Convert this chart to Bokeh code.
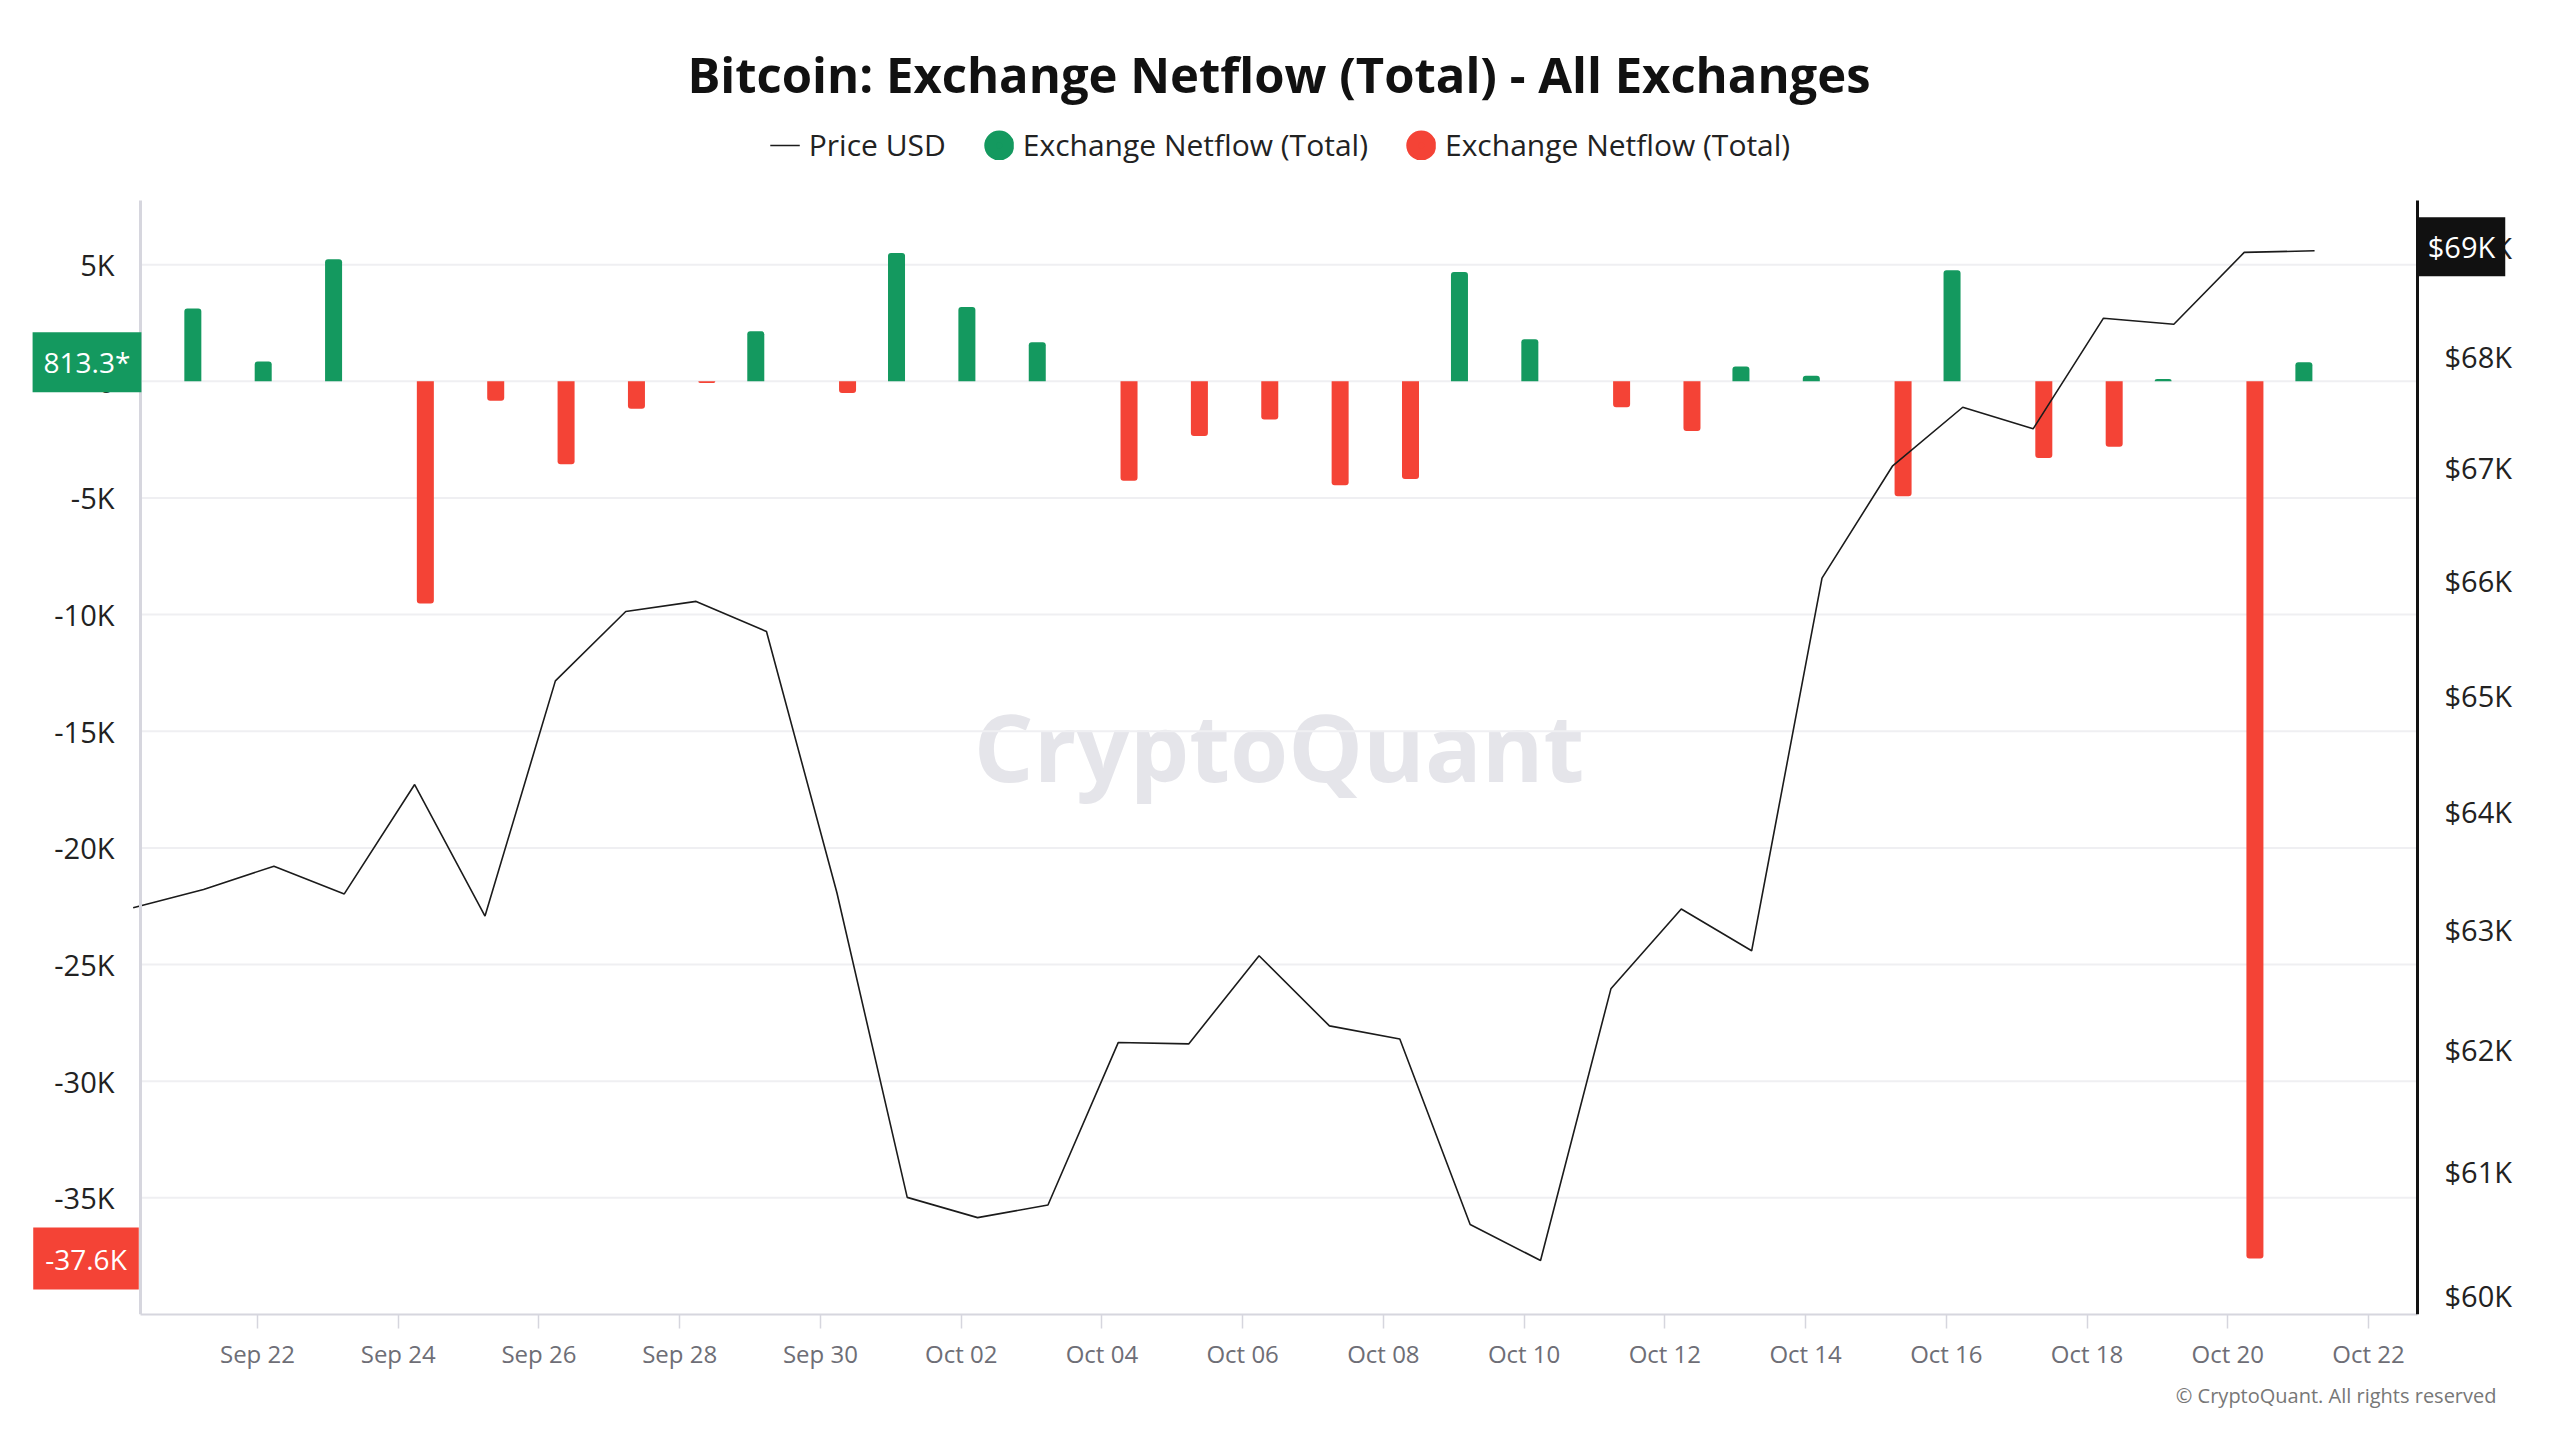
import math
import pandas as pd
from bokeh.plotting import figure
from bokeh.models import (Range1d, LogAxis, LogScale, FixedTicker,
                          DatetimeTickFormatter, ColumnDataSource, Legend, LegendItem,
                          Label, Title)
from bokeh.transform import dodge
from bokeh.embed import file_html
from bokeh.resources import INLINE

# ---------------- data ----------------
title_text = "Bitcoin: Exchange Netflow (Total) - All Exchanges"
series_price = "Price USD"
series_flow = "Exchange Netflow (Total)"
copyright_text = "\u00a9 CryptoQuant. All rights reserved"
watermark_text = "CryptoQuant"

flow_dates = pd.date_range("2024-09-21", "2024-10-21", freq="D")
netflow = [3120, 850, 5230, -9520, -830, -3560, -1180, -70, 2150, -500,
           5500, 3190, 1670, -4260, -2340, -1640, -4460, -4190, 4690, 1800,
           -1110, -2130, 640, 240, -4930, 4760, -3290, -2800, 100, -37600, 813.3]

price_dates = pd.date_range("2024-09-20", "2024-10-21", freq="D")
price_usd = [63183, 63338, 63535, 63300, 64230, 63114, 65124, 65729, 65818, 65554,
             63312, 60790, 60626, 60728, 62059, 62047, 62780, 62196, 62088, 60570,
             60281, 62504, 63173, 62822, 66022, 67015, 67544, 67350, 68351, 68296,
             68953, 68968]

x_tick_dates = pd.date_range("2024-09-22", "2024-10-22", freq="2D")
left_ticks = [5000, 0, -5000, -10000, -15000, -20000, -25000, -30000, -35000]
left_labels = ["5K", "0", "-5K", "-10K", "-15K", "-20K", "-25K", "-30K", "-35K"]
price_ticks = [60000, 61000, 62000, 63000, 64000, 65000, 66000, 67000, 68000, 69000]
price_labels = ["$60K", "$61K", "$62K", "$63K", "$64K", "$65K", "$66K", "$67K", "$68K", "$69K"]

# ---------------- style / geometry ----------------
GREEN = "#14995f"
RED = "#f44336"
FONT = "Open Sans"
HOUR = 3600 * 1000.0

x_start = pd.Timestamp("2024-09-20 08:06")   # data window of the time axis
x_end = pd.Timestamp("2024-10-22 16:42")
y_left = (-40000, 7750)          # data window of the netflow axis
y_price = (59848, 69432)         # data window of the (log) price axis

W, H = 2560, 1440
AX_L, AX_R = 140, 2417             # pixel columns of the two y axes
DATA_TOP, DATA_BOTTOM = 200, 1314  # pixel rows of the data window
TITLE_Y, LEGEND_Y = 73, 144        # pixel rows of title / legend centres


def ms(ts):
    return pd.Timestamp(ts).timestamp() * 1000.0


# the frame covers the whole canvas above the x axis; axes sit at fixed locations
mpp = (ms(x_end) - ms(x_start)) / (AX_R - AX_L)
x_ext = (ms(x_start) - AX_L * mpp, ms(x_end) + (W - AX_R) * mpp)
per_px = (y_left[1] - y_left[0]) / (DATA_BOTTOM - DATA_TOP)
y_left_ext = (y_left[0], y_left[1] + DATA_TOP * per_px)
lper_px = (math.log(y_price[1]) - math.log(y_price[0])) / (DATA_BOTTOM - DATA_TOP)
y_price_ext = (y_price[0], math.exp(math.log(y_price[1]) + DATA_TOP * lper_px))

p = figure(width=W, height=H, x_axis_type="datetime",
           x_range=Range1d(*x_ext), y_range=Range1d(*y_left_ext),
           output_backend="svg", toolbar_location=None,
           min_border_left=0, min_border_right=0,
           min_border_top=0, min_border_bottom=H - DATA_BOTTOM,
           outline_line_color=None, background_fill_color="white",
           border_fill_color="white")

p.extra_y_ranges = {"price": Range1d(*y_price_ext)}
p.extra_y_scales = {"price": LogScale()}

p.xgrid.grid_line_color = None
p.ygrid.grid_line_color = None

# left axis
ya = p.yaxis[0]
ya.fixed_location = ms(x_start)
ya.ticker = FixedTicker(ticks=left_ticks)
ya.bounds = y_left
ya.major_label_overrides = dict(zip(left_ticks, left_labels))
ya.axis_line_color = "#d6d6de"
ya.axis_line_width = 3
ya.major_tick_line_color = None
ya.minor_tick_line_color = None
ya.major_label_standoff = 20
ya.major_label_text_font = FONT
ya.major_label_text_font_size = "29px"
ya.major_label_text_color = "#222222"

# x axis
xa = p.xaxis[0]
xa.ticker = FixedTicker(ticks=[ms(d) for d in x_tick_dates])
xa.bounds = (ms(x_start), ms(x_end))
xa.formatter = DatetimeTickFormatter(days="%b %d", months="%b %d", hours="%b %d",
                                     years="%b %d")
xa.axis_line_color = "#d6d6de"
xa.axis_line_width = 2
xa.major_tick_line_color = "#d6d6de"
xa.major_tick_line_width = 1.5
xa.major_tick_in = 0
xa.major_tick_out = 14
xa.minor_tick_line_color = None
xa.major_label_standoff = 8
xa.major_label_text_font = FONT
xa.major_label_text_font_size = "24px"
xa.major_label_text_color = "#6e6e76"

# right (price) axis, log scale
pa = LogAxis(y_range_name="price", ticker=FixedTicker(ticks=price_ticks),
             bounds=y_price, fixed_location=ms(x_end))
pa.major_label_overrides = dict(zip(price_ticks, price_labels))
pa.axis_line_color = "#111111"
pa.axis_line_width = 3
pa.major_tick_line_color = None
pa.minor_tick_line_color = None
pa.major_label_standoff = 21
pa.major_label_text_font = FONT
pa.major_label_text_font_size = "29px"
pa.major_label_text_color = "#222222"
p.add_layout(pa, "right")

# watermark
p.add_layout(Label(x=(ms(x_start) + ms(x_end)) / 2, y=(y_left[0] + y_left[1]) / 2,
                   y_offset=12, text=watermark_text, text_align="center",
                   text_baseline="middle", text_font=FONT,
                   text_font_size="94px", text_font_style="bold",
                   text_color="#e5e5ea", level="underlay"))

# horizontal grid lines at the netflow ticks, limited to the data window
p.segment(x0=[ms(x_start)] * len(left_ticks), x1=[ms(x_end)] * len(left_ticks),
          y0=left_ticks, y1=left_ticks, line_color="#efeff2", line_width=2)

# bars
pos = [(d, v) for d, v in zip(flow_dates, netflow) if v >= 0]
neg = [(d, v) for d, v in zip(flow_dates, netflow) if v < 0]
src_pos = ColumnDataSource(dict(date=[d for d, _ in pos], value=[v for _, v in pos]))
src_neg = ColumnDataSource(dict(date=[d for d, _ in neg], value=[v for _, v in neg]))

bar_w = 5.8 * HOUR
p.vbar(x=dodge("date", 1.95 * HOUR), top="value", bottom=0, width=bar_w,
       source=src_pos, fill_color=GREEN, line_color=None, border_radius=(3, 3, 0, 0))
p.vbar(x=dodge("date", 9.25 * HOUR), top="value", bottom=0, width=bar_w,
       source=src_neg, fill_color=RED, line_color=None, border_radius=(0, 0, 3, 3))

# price line
src_price = ColumnDataSource(dict(date=price_dates, price=price_usd))
r_price = p.line(x=dodge("date", 5.6 * HOUR), y="price", source=src_price,
                 y_range_name="price", line_color="#1b1b1b", line_width=1.6)

# legend (circle icons: small marker + thick outline fills the glyph box)
nan = float("nan")
r_g = p.scatter(x=[nan], y=[nan], marker="circle", size=12, fill_color=GREEN,
                line_color=GREEN, line_width=18)
r_r = p.scatter(x=[nan], y=[nan], marker="circle", size=12, fill_color=RED,
                line_color=RED, line_width=18)
legend = Legend(items=[LegendItem(label=series_price, renderers=[r_price]),
                       LegendItem(label=series_flow, renderers=[r_g]),
                       LegendItem(label=series_flow, renderers=[r_r])],
                orientation="horizontal", location="top_center",
                label_text_font=FONT, label_text_font_size="30px",
                label_text_color="#222222", glyph_width=30, glyph_height=30,
                label_standoff=9, spacing=38, padding=0, margin=LEGEND_Y - 20,
                border_line_color=None, background_fill_alpha=0)
p.add_layout(legend, "center")

# title
p.add_layout(Label(x=(ms(x_start) + ms(x_end)) / 2,
                   y=y_left[1] + (DATA_TOP - TITLE_Y) * per_px,
                   text=title_text, text_align="center", text_baseline="middle",
                   text_font=FONT, text_font_size="49px", text_font_style="bold",
                   text_color="#111111"))

# value tags
last_flow = netflow[-1]
min_flow = min(netflow)
last_price = price_usd[-1]
p.add_layout(Label(x=ms(x_start), y=last_flow, x_offset=-53.5,
                   text=f"{last_flow}*", text_align="center", text_baseline="middle",
                   text_font=FONT, text_font_size="28px", text_color="white",
                   background_fill_color=GREEN, padding=11))
p.add_layout(Label(x=ms(x_start), y=min_flow, x_offset=-54.5,
                   text=f"{min_flow / 1000:.1f}K", text_align="center",
                   text_baseline="middle", text_font=FONT,
                   text_font_size="28px", text_color="white",
                   background_fill_color=RED, padding=12))
p.add_layout(Label(x=ms(x_end), y=last_price, y_range_name="price", x_offset=44,
                   y_offset=4, text=f"${round(last_price / 1000)}K", text_align="center",
                   text_baseline="middle", text_font=FONT,
                   text_font_size="29px", text_color="white",
                   background_fill_color="#111111", padding=10))

# copyright
p.add_layout(Title(text=copyright_text, align="right", offset=64, standoff=14,
                   text_font=FONT, text_font_size="20px", text_font_style="normal",
                   text_color="#777777"), "below")

open("out.html", "w").write(file_html(p, INLINE))
